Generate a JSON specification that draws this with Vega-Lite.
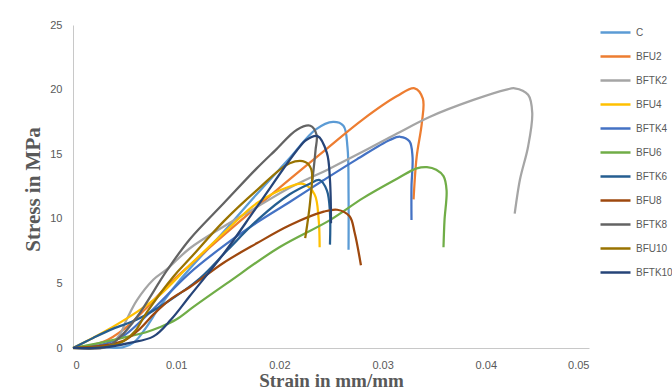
{
  "$schema": "https://vega.github.io/schema/vega-lite/v6.json",
  "width": 516,
  "height": 323,
  "autosize": {"type": "none"},
  "padding": {"left": 73, "top": 25, "right": 83, "bottom": 41},
  "background": "white",
  "config": {
    "view": {"stroke": null},
    "axis": {
      "grid": false,
      "ticks": false,
      "domainColor": "#c8c8c8",
      "domainWidth": 1,
      "labelFont": "Liberation Sans",
      "labelFontSize": 11,
      "labelColor": "#595959",
      "titleFont": "Liberation Serif",
      "titleFontWeight": "bold",
      "titleFontSize": 20,
      "titleColor": "#595959"
    }
  },
  "datasets": {
    "curves": [
      {"s":"C","i":0,"x":0,"y":0},{"s":"C","i":1,"x":0.003,"y":0.05},{"s":"C","i":2,"x":0.0048,"y":0.05},{"s":"C","i":3,"x":0.006,"y":0.5},{"s":"C","i":4,"x":0.0071,"y":1.6},{"s":"C","i":5,"x":0.0084,"y":3.2},{"s":"C","i":6,"x":0.0104,"y":5.3},{"s":"C","i":7,"x":0.0146,"y":9.0},{"s":"C","i":8,"x":0.0178,"y":11.9},{"s":"C","i":9,"x":0.021,"y":14.7},{"s":"C","i":10,"x":0.0235,"y":16.9},{"s":"C","i":11,"x":0.0252,"y":17.5},{"s":"C","i":12,"x":0.0262,"y":17.2},{"s":"C","i":13,"x":0.0266,"y":15.5},{"s":"C","i":14,"x":0.0267,"y":12},{"s":"C","i":15,"x":0.0267,"y":7.6},

      {"s":"BFU2","i":0,"x":0,"y":0},{"s":"BFU2","i":1,"x":0.003,"y":0.5},{"s":"BFU2","i":2,"x":0.005,"y":1.5},{"s":"BFU2","i":3,"x":0.007,"y":3.0},{"s":"BFU2","i":4,"x":0.009,"y":4.7},{"s":"BFU2","i":5,"x":0.0113,"y":6.4},{"s":"BFU2","i":6,"x":0.015,"y":9.0},{"s":"BFU2","i":7,"x":0.02,"y":12.4},{"s":"BFU2","i":8,"x":0.0244,"y":15.3},{"s":"BFU2","i":9,"x":0.0281,"y":17.7},{"s":"BFU2","i":10,"x":0.0314,"y":19.5},{"s":"BFU2","i":11,"x":0.0331,"y":20.1},{"s":"BFU2","i":12,"x":0.0339,"y":19.3},{"s":"BFU2","i":13,"x":0.0338,"y":17.4},{"s":"BFU2","i":14,"x":0.0333,"y":14.8},{"s":"BFU2","i":15,"x":0.033,"y":11.5},

      {"s":"BFTK2","i":0,"x":0,"y":0},{"s":"BFTK2","i":1,"x":0.0033,"y":0.1},{"s":"BFTK2","i":2,"x":0.0045,"y":1.0},{"s":"BFTK2","i":3,"x":0.0052,"y":2.2},{"s":"BFTK2","i":4,"x":0.0062,"y":3.7},{"s":"BFTK2","i":5,"x":0.0078,"y":5.3},{"s":"BFTK2","i":6,"x":0.0091,"y":6.1},{"s":"BFTK2","i":7,"x":0.0113,"y":7.7},{"s":"BFTK2","i":8,"x":0.0146,"y":9.4},{"s":"BFTK2","i":9,"x":0.0178,"y":10.9},{"s":"BFTK2","i":10,"x":0.021,"y":12.4},{"s":"BFTK2","i":11,"x":0.0249,"y":13.9},{"s":"BFTK2","i":12,"x":0.0281,"y":15.2},{"s":"BFTK2","i":13,"x":0.0314,"y":16.6},{"s":"BFTK2","i":14,"x":0.0346,"y":17.9},{"s":"BFTK2","i":15,"x":0.0388,"y":19.2},{"s":"BFTK2","i":16,"x":0.042,"y":20.0},{"s":"BFTK2","i":17,"x":0.0428,"y":20.1},{"s":"BFTK2","i":18,"x":0.0441,"y":19.6},{"s":"BFTK2","i":19,"x":0.0445,"y":18.2},{"s":"BFTK2","i":20,"x":0.0441,"y":15.6},{"s":"BFTK2","i":21,"x":0.0433,"y":13.0},{"s":"BFTK2","i":22,"x":0.0428,"y":10.4},

      {"s":"BFU4","i":0,"x":0,"y":0},{"s":"BFU4","i":1,"x":0.0029,"y":1.2},{"s":"BFU4","i":2,"x":0.0062,"y":2.8},{"s":"BFU4","i":3,"x":0.0084,"y":4.1},{"s":"BFU4","i":4,"x":0.0113,"y":6.4},{"s":"BFU4","i":5,"x":0.0146,"y":8.9},{"s":"BFU4","i":6,"x":0.0178,"y":11.2},{"s":"BFU4","i":7,"x":0.021,"y":12.5},{"s":"BFU4","i":8,"x":0.0223,"y":12.7},{"s":"BFU4","i":9,"x":0.0234,"y":11.9},{"s":"BFU4","i":10,"x":0.0238,"y":10.0},{"s":"BFU4","i":11,"x":0.0239,"y":7.8},

      {"s":"BFTK4","i":0,"x":0,"y":0},{"s":"BFTK4","i":1,"x":0.003,"y":0.3},{"s":"BFTK4","i":2,"x":0.005,"y":1.0},{"s":"BFTK4","i":3,"x":0.0075,"y":2.8},{"s":"BFTK4","i":4,"x":0.0113,"y":5.8},{"s":"BFTK4","i":5,"x":0.0146,"y":7.9},{"s":"BFTK4","i":6,"x":0.018,"y":9.8},{"s":"BFTK4","i":7,"x":0.021,"y":11.3},{"s":"BFTK4","i":8,"x":0.0243,"y":13.0},{"s":"BFTK4","i":9,"x":0.0275,"y":14.6},{"s":"BFTK4","i":10,"x":0.0307,"y":16.1},{"s":"BFTK4","i":11,"x":0.0317,"y":16.35},{"s":"BFTK4","i":12,"x":0.0326,"y":16.0},{"s":"BFTK4","i":13,"x":0.0329,"y":14.8},{"s":"BFTK4","i":14,"x":0.0328,"y":12.5},{"s":"BFTK4","i":15,"x":0.0328,"y":9.9},

      {"s":"BFU6","i":0,"x":0,"y":0},{"s":"BFU6","i":1,"x":0.002,"y":0.3},{"s":"BFU6","i":2,"x":0.0046,"y":0.75},{"s":"BFU6","i":3,"x":0.007,"y":1.2},{"s":"BFU6","i":4,"x":0.0084,"y":1.6},{"s":"BFU6","i":5,"x":0.01,"y":2.2},{"s":"BFU6","i":6,"x":0.0117,"y":3.2},{"s":"BFU6","i":7,"x":0.0149,"y":5.0},{"s":"BFU6","i":8,"x":0.02,"y":7.8},{"s":"BFU6","i":9,"x":0.0249,"y":9.9},{"s":"BFU6","i":10,"x":0.0281,"y":11.6},{"s":"BFU6","i":11,"x":0.0314,"y":13.1},{"s":"BFU6","i":12,"x":0.0333,"y":13.9},{"s":"BFU6","i":13,"x":0.0343,"y":14.0},{"s":"BFU6","i":14,"x":0.0352,"y":13.8},{"s":"BFU6","i":15,"x":0.0359,"y":13.3},{"s":"BFU6","i":16,"x":0.0362,"y":12.2},{"s":"BFU6","i":17,"x":0.036,"y":9.9},{"s":"BFU6","i":18,"x":0.0359,"y":7.8},

      {"s":"BFTK6","i":0,"x":0,"y":0},{"s":"BFTK6","i":1,"x":0.002,"y":0.8},{"s":"BFTK6","i":2,"x":0.0039,"y":1.5},{"s":"BFTK6","i":3,"x":0.0062,"y":2.2},{"s":"BFTK6","i":4,"x":0.0092,"y":3.6},{"s":"BFTK6","i":5,"x":0.0123,"y":5.4},{"s":"BFTK6","i":6,"x":0.015,"y":7.6},{"s":"BFTK6","i":7,"x":0.018,"y":10.0},{"s":"BFTK6","i":8,"x":0.021,"y":11.9},{"s":"BFTK6","i":9,"x":0.0229,"y":12.7},{"s":"BFTK6","i":10,"x":0.0239,"y":13.0},{"s":"BFTK6","i":11,"x":0.0246,"y":12.2},{"s":"BFTK6","i":12,"x":0.0249,"y":10.5},{"s":"BFTK6","i":13,"x":0.0249,"y":8.0},

      {"s":"BFU8","i":0,"x":0,"y":0},{"s":"BFU8","i":1,"x":0.003,"y":0.2},{"s":"BFU8","i":2,"x":0.005,"y":0.6},{"s":"BFU8","i":3,"x":0.0065,"y":1.5},{"s":"BFU8","i":4,"x":0.0078,"y":2.6},{"s":"BFU8","i":5,"x":0.0095,"y":3.8},{"s":"BFU8","i":6,"x":0.0113,"y":4.7},{"s":"BFU8","i":7,"x":0.0146,"y":6.6},{"s":"BFU8","i":8,"x":0.0178,"y":8.1},{"s":"BFU8","i":9,"x":0.021,"y":9.5},{"s":"BFU8","i":10,"x":0.0243,"y":10.55},{"s":"BFU8","i":11,"x":0.0256,"y":10.7},{"s":"BFU8","i":12,"x":0.0268,"y":10.2},{"s":"BFU8","i":13,"x":0.0273,"y":8.9},{"s":"BFU8","i":14,"x":0.0279,"y":6.4},

      {"s":"BFTK8","i":0,"x":0,"y":0},{"s":"BFTK8","i":1,"x":0.0033,"y":0.1},{"s":"BFTK8","i":2,"x":0.0045,"y":0.8},{"s":"BFTK8","i":3,"x":0.0062,"y":2.4},{"s":"BFTK8","i":4,"x":0.0091,"y":6.0},{"s":"BFTK8","i":5,"x":0.0113,"y":8.4},{"s":"BFTK8","i":6,"x":0.0146,"y":11.2},{"s":"BFTK8","i":7,"x":0.0178,"y":13.9},{"s":"BFTK8","i":8,"x":0.0196,"y":15.3},{"s":"BFTK8","i":9,"x":0.0217,"y":16.9},{"s":"BFTK8","i":10,"x":0.023,"y":17.2},{"s":"BFTK8","i":11,"x":0.0236,"y":16.5},{"s":"BFTK8","i":12,"x":0.0235,"y":15.3},{"s":"BFTK8","i":13,"x":0.0232,"y":13.0},

      {"s":"BFU10","i":0,"x":0,"y":0},{"s":"BFU10","i":1,"x":0.003,"y":0.1},{"s":"BFU10","i":2,"x":0.0046,"y":0.4},{"s":"BFU10","i":3,"x":0.006,"y":1.3},{"s":"BFU10","i":4,"x":0.0071,"y":2.7},{"s":"BFU10","i":5,"x":0.0097,"y":5.5},{"s":"BFU10","i":6,"x":0.0113,"y":6.9},{"s":"BFU10","i":7,"x":0.0146,"y":9.8},{"s":"BFU10","i":8,"x":0.0178,"y":12.2},{"s":"BFU10","i":9,"x":0.021,"y":14.3},{"s":"BFU10","i":10,"x":0.0225,"y":14.4},{"s":"BFU10","i":11,"x":0.0231,"y":13.8},{"s":"BFU10","i":12,"x":0.023,"y":11.5},{"s":"BFU10","i":13,"x":0.0225,"y":8.5},

      {"s":"BFTK10","i":0,"x":0,"y":0},{"s":"BFTK10","i":1,"x":0.003,"y":0.05},{"s":"BFTK10","i":2,"x":0.0055,"y":0.4},{"s":"BFTK10","i":3,"x":0.0078,"y":0.9},{"s":"BFTK10","i":4,"x":0.0095,"y":2.2},{"s":"BFTK10","i":5,"x":0.0113,"y":4.0},{"s":"BFTK10","i":6,"x":0.0146,"y":7.3},{"s":"BFTK10","i":7,"x":0.0178,"y":10.9},{"s":"BFTK10","i":8,"x":0.0217,"y":15.3},{"s":"BFTK10","i":9,"x":0.0226,"y":16.1},{"s":"BFTK10","i":10,"x":0.0237,"y":16.4},{"s":"BFTK10","i":11,"x":0.0246,"y":15.1},{"s":"BFTK10","i":12,"x":0.0249,"y":13.0},{"s":"BFTK10","i":13,"x":0.025,"y":9.65}
    ]
  },
  "data": {"name": "curves"},
  "mark": {"type": "line", "interpolate": "catmull-rom", "strokeWidth": 2.25, "clip": false},
  "encoding": {
    "x": {
      "field": "x", "type": "quantitative",
      "scale": {"domain": [0, 0.05], "nice": false, "zero": false},
      "axis": {"values": [0, 0.01, 0.02, 0.03, 0.04, 0.05], "format": ".2~f", "labelPadding": 11, "title": "Strain in mm/mm", "titleBaseline": "alphabetic", "titleY": 38, "titleFontSize": 19}
    },
    "y": {
      "field": "y", "type": "quantitative",
      "scale": {"domain": [0, 25], "nice": false},
      "axis": {"values": [0, 5, 10, 15, 20, 25], "format": "d", "labelPadding": 11, "title": "Stress in MPa", "titleBaseline": "middle", "titleX": -40, "titleY": 164, "titleFontSize": 21}
    },
    "color": {
      "field": "s", "type": "nominal",
      "scale": {
        "domain": ["C", "BFU2", "BFTK2", "BFU4", "BFTK4", "BFU6", "BFTK6", "BFU8", "BFTK8", "BFU10", "BFTK10"],
        "range": ["#5B9BD5", "#ED7D31", "#A5A5A5", "#FFC000", "#4472C4", "#70AD47", "#255E91", "#9E480E", "#636363", "#997300", "#264478"]
      },
      "legend": {
        "title": null, "orient": "none", "legendX": 526, "legendY": -9,
        "symbolType": "stroke", "symbolSize": 900, "symbolStrokeWidth": 2.5,
        "labelFont": "Liberation Sans", "labelFontSize": 10, "labelColor": "#595959",
        "labelOffset": 4, "rowPadding": 2
      }
    },
    "order": {"field": "i", "type": "quantitative"}
  }
}
